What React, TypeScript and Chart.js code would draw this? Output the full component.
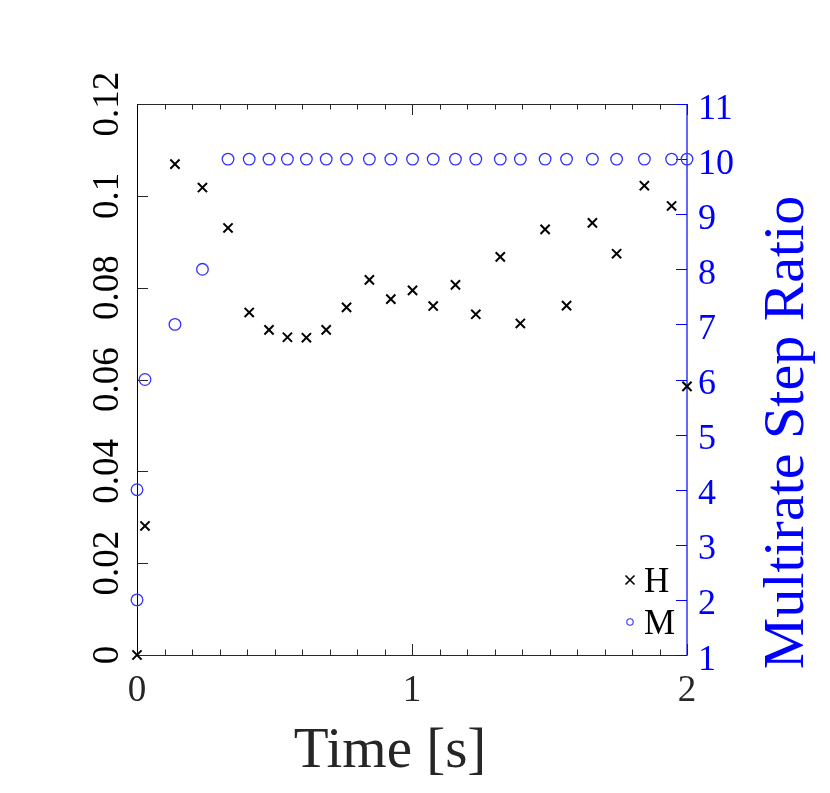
import { useEffect, useRef } from "react";
import { Chart, registerables } from "chart.js";

Chart.register(...registerables);

const timeH = [0, 0.029, 0.138, 0.238, 0.331, 0.408, 0.48, 0.547, 0.616, 0.688, 0.762, 0.845, 0.923, 1.002, 1.077, 1.158, 1.232, 1.321, 1.394, 1.484, 1.562, 1.656, 1.744, 1.845, 1.944, 2.0];
const valuesH = [0, 0.0281, 0.1069, 0.1018, 0.093, 0.0746, 0.0708, 0.0692, 0.0691, 0.0708, 0.0757, 0.0817, 0.0775, 0.0794, 0.076, 0.0806, 0.0742, 0.0867, 0.0722, 0.0927, 0.0761, 0.0941, 0.0874, 0.1022, 0.0978, 0.0585];

const timeM = [0, 0, 0.029, 0.138, 0.238, 0.331, 0.408, 0.48, 0.547, 0.616, 0.688, 0.762, 0.845, 0.923, 1.002, 1.077, 1.158, 1.232, 1.321, 1.394, 1.484, 1.562, 1.656, 1.744, 1.845, 1.944, 2.0];
const valuesM = [2, 4, 6, 7, 8, 10, 10, 10, 10, 10, 10, 10, 10, 10, 10, 10, 10, 10, 10, 10, 10, 10, 10, 10, 10, 10, 10];

const xMajorTicks = [0, 1, 2];
const xTickLabels = ["0", "1", "2"];
const xMinorTicks = [0.1, 0.2, 0.3, 0.4, 0.5, 0.6, 0.7, 0.8, 0.9, 1.1, 1.2, 1.3, 1.4, 1.5, 1.6, 1.7, 1.8, 1.9];
const yTicks = [0, 0.02, 0.04, 0.06, 0.08, 0.1, 0.12];
const yTickLabels = ["0", "0.02", "0.04", "0.06", "0.08", "0.1", "0.12"];
const y2Ticks = [1, 2, 3, 4, 5, 6, 7, 8, 9, 10, 11];
const y2TickLabels = ["1", "2", "3", "4", "5", "6", "7", "8", "9", "10", "11"];

const seriesNames = ["H", "M"];
const xTitle = "Time [s]";
const y2Title = "Multirate Step Ratio";

const SERIF = '"Liberation Serif", "DejaVu Serif", serif';
const BLUE = "#0000ff";
const GRAY = "#262626";

const axesPlugin = {
  id: "customAxes",
  beforeDatasetsDraw(chart: any) {
    const ctx = chart.ctx as CanvasRenderingContext2D;
    const { left, right, top, bottom } = chart.chartArea;
    const xs = chart.scales.x;
    const ys = chart.scales.y;
    const y2s = chart.scales.y2;
    ctx.save();
    ctx.lineWidth = 1;
    // top & bottom borders
    ctx.strokeStyle = GRAY;
    ctx.beginPath();
    ctx.moveTo(left, bottom + 0.5);
    ctx.lineTo(right, bottom + 0.5);
    ctx.moveTo(left, top + 0.5);
    ctx.lineTo(right, top + 0.5);
    ctx.stroke();
    // x ticks
    ctx.beginPath();
    for (const v of xMajorTicks) {
      const px = Math.round(xs.getPixelForValue(v)) + 0.5;
      ctx.moveTo(px, bottom);
      ctx.lineTo(px, bottom - 11);
      ctx.moveTo(px, top);
      ctx.lineTo(px, top + 11);
    }
    for (const v of xMinorTicks) {
      const px = Math.round(xs.getPixelForValue(v)) + 0.5;
      ctx.moveTo(px, bottom);
      ctx.lineTo(px, bottom - 5.5);
      ctx.moveTo(px, top);
      ctx.lineTo(px, top + 5.5);
    }
    ctx.stroke();
    // left ticks
    ctx.beginPath();
    for (const v of yTicks) {
      const py = Math.round(ys.getPixelForValue(v)) + 0.5;
      ctx.moveTo(left, py);
      ctx.lineTo(left + 11, py);
    }
    ctx.stroke();
    // left border
    ctx.strokeStyle = "#000";
    ctx.beginPath();
    ctx.moveTo(left + 0.5, top);
    ctx.lineTo(left + 0.5, bottom + 1);
    ctx.stroke();
    // right border and ticks
    ctx.strokeStyle = BLUE;
    ctx.lineWidth = 1.2;
    ctx.beginPath();
    ctx.moveTo(right, top);
    ctx.lineTo(right, bottom + 1);
    for (const v of y2Ticks) {
      const py = Math.round(y2s.getPixelForValue(v)) + 0.5;
      ctx.moveTo(right, py);
      ctx.lineTo(right - 11, py);
    }
    ctx.stroke();
    ctx.restore();
  },
  afterDraw(chart: any) {
    const ctx = chart.ctx as CanvasRenderingContext2D;
    const { left, right, top, bottom } = chart.chartArea;
    const xs = chart.scales.x;
    const ys = chart.scales.y;
    const y2s = chart.scales.y2;
    ctx.save();
    // x tick labels
    ctx.font = `37px ${SERIF}`;
    ctx.fillStyle = GRAY;
    ctx.textAlign = "center";
    ctx.textBaseline = "alphabetic";
    xMajorTicks.forEach((v, i) => {
      ctx.fillText(xTickLabels[i], xs.getPixelForValue(v), bottom + 46);
    });
    // left tick labels rotated
    ctx.fillStyle = "#000";
    yTicks.forEach((v, i) => {
      const py = ys.getPixelForValue(v);
      ctx.save();
      ctx.translate(left - 19, py);
      ctx.rotate(-Math.PI / 2);
      ctx.textAlign = "center";
      ctx.fillText(yTickLabels[i], 0, 0);
      ctx.restore();
    });
    // right tick labels
    ctx.fillStyle = BLUE;
    ctx.font = `36px ${SERIF}`;
    ctx.textAlign = "left";
    y2Ticks.forEach((v, i) => {
      ctx.fillText(y2TickLabels[i], right + 11, y2s.getPixelForValue(v) + 14.5);
    });
    // x title
    ctx.font = `57px ${SERIF}`;
    ctx.fillStyle = GRAY;
    ctx.textAlign = "center";
    ctx.fillText(xTitle, (left + right) / 2 - 22, bottom + 112);
    // y2 title
    ctx.fillStyle = BLUE;
    ctx.save();
    ctx.translate(right + 116, (top + bottom) / 2 + 53);
    ctx.rotate(-Math.PI / 2);
    ctx.font = `58px ${SERIF}`;
    ctx.textAlign = "center";
    ctx.fillText(y2Title, 0, 0);
    ctx.restore();
    // legend
    const lx = right - 57;
    const ly1 = bottom - 75;
    const ly2 = bottom - 33;
    ctx.strokeStyle = "#000";
    ctx.lineWidth = 1.6;
    ctx.beginPath();
    ctx.moveTo(lx - 4.5, ly1 - 4.5);
    ctx.lineTo(lx + 4.5, ly1 + 4.5);
    ctx.moveTo(lx + 4.5, ly1 - 4.5);
    ctx.lineTo(lx - 4.5, ly1 + 4.5);
    ctx.stroke();
    ctx.strokeStyle = "#3333ff";
    ctx.lineWidth = 1.1;
    ctx.beginPath();
    ctx.arc(lx, ly2, 3.2, 0, Math.PI * 2);
    ctx.stroke();
    ctx.fillStyle = "#000";
    ctx.font = `35px ${SERIF}`;
    ctx.textAlign = "left";
    ctx.fillText(seriesNames[0], lx + 14, ly1 + 12);
    ctx.fillText(seriesNames[1], lx + 14, ly2 + 12);
    ctx.restore();
  },
};

export default function App() {
  const canvasRef = useRef<HTMLCanvasElement | null>(null);

  useEffect(() => {
    if (!canvasRef.current) return;
    const chart = new Chart(canvasRef.current, {
      type: "scatter",
      data: {
        datasets: [
          {
            label: seriesNames[0],
            data: timeH.map((t, i) => ({ x: t, y: valuesH[i] })),
            yAxisID: "y",
            pointStyle: "crossRot",
            pointRadius: 6.5,
            pointBorderWidth: 2,
            borderColor: "#000",
            backgroundColor: "rgba(0,0,0,0)",
            showLine: false,
            clip: false,
          } as any,
          {
            label: seriesNames[1],
            data: timeM.map((t, i) => ({ x: t, y: valuesM[i] })),
            yAxisID: "y2",
            pointStyle: "circle",
            pointRadius: 5.8,
            pointBorderWidth: 1.3,
            borderColor: "#3333ff",
            backgroundColor: "rgba(0,0,0,0)",
            showLine: false,
            clip: false,
          } as any,
        ],
      },
      options: {
        animation: false,
        responsive: false,
        events: [],
        layout: { padding: { left: 137, right: 143, top: 104, bottom: 138 } },
        plugins: {
          legend: { display: false },
          tooltip: { enabled: false },
        },
        scales: {
          x: { type: "linear", min: 0, max: 2, display: false },
          y: { type: "linear", position: "left", min: 0, max: 0.12, display: false },
          y2: { type: "linear", position: "right", min: 1, max: 11, display: false },
        },
      },
      plugins: [axesPlugin],
    });
    return () => chart.destroy();
  }, []);

  return (
    <div style={{ position: "fixed", left: 0, top: 0, width: 830, height: 793, background: "#fff" }}>
      <canvas ref={canvasRef} width={830} height={793} style={{ display: "block" }} />
    </div>
  );
}
